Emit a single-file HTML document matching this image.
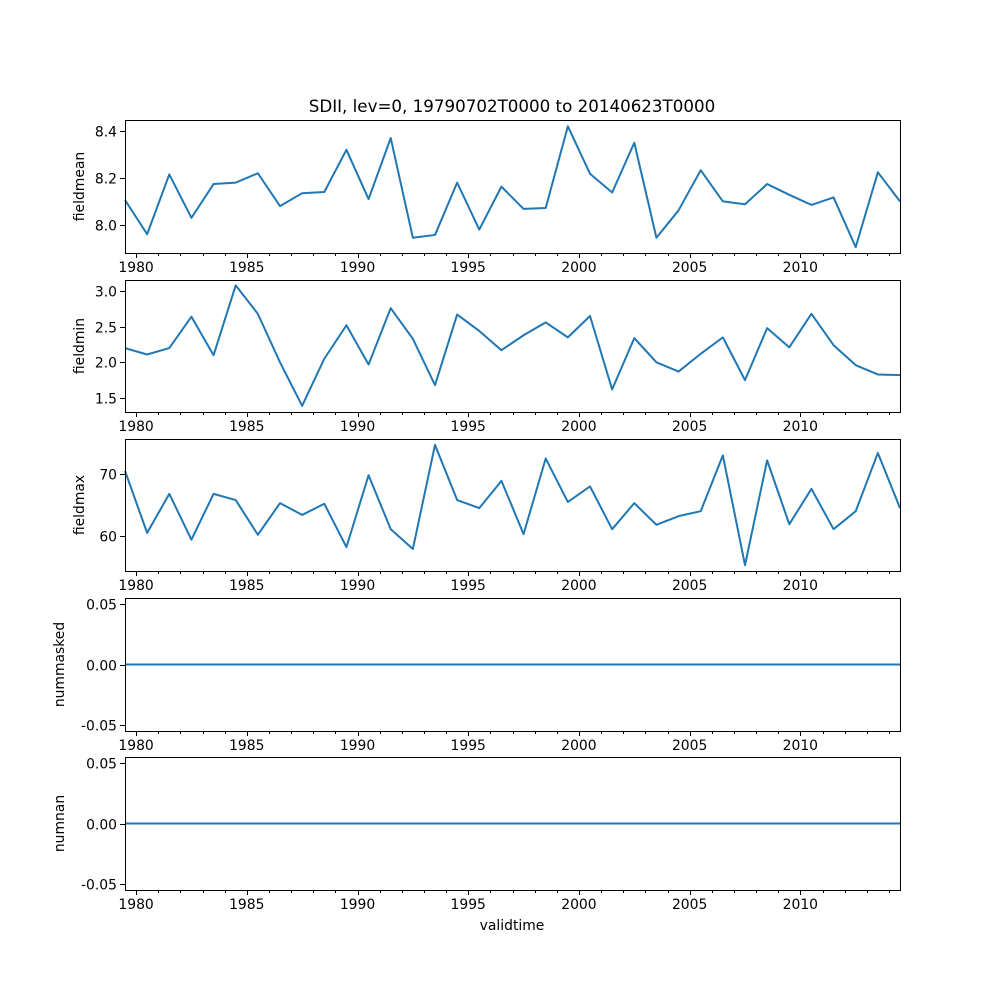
<!DOCTYPE html>
<html><head><meta charset="utf-8">
<style>
html,body{margin:0;padding:0;background:#fff;}
svg{display:block;font-family:"DejaVu Sans","Liberation Sans",sans-serif;}
</style></head>
<body>
<svg id="fig" width="1000" height="1000" viewBox="0 0 1000 1000"></svg>
<script>
const years = [1979.5,1980.5,1981.5,1982.5,1983.5,1984.5,1985.5,1986.5,1987.5,1988.5,1989.5,1990.5,1991.5,1992.5,1993.5,1994.5,1995.5,1996.5,1997.5,1998.5,1999.5,2000.5,2001.5,2002.5,2003.5,2004.5,2005.5,2006.5,2007.5,2008.5,2009.5,2010.5,2011.5,2012.5,2013.5,2014.5];
const fieldmean = [8.106,7.96,8.215,8.03,8.174,8.18,8.22,8.08,8.135,8.14,8.32,8.11,8.37,7.945,7.957,8.18,7.98,8.163,8.068,8.072,8.42,8.218,8.138,8.35,7.945,8.062,8.233,8.1,8.088,8.174,8.128,8.085,8.117,7.905,8.224,8.1];
const fieldmin = [2.2,2.11,2.2,2.64,2.1,3.08,2.68,2.0,1.39,2.05,2.52,1.97,2.76,2.33,1.68,2.67,2.44,2.17,2.38,2.56,2.35,2.65,1.62,2.34,2.0,1.87,2.12,2.35,1.75,2.48,2.21,2.68,2.24,1.96,1.83,1.82];
const fieldmax = [70.5,60.5,66.8,59.4,66.8,65.8,60.2,65.3,63.4,65.2,58.2,69.8,61.1,57.9,74.7,65.8,64.5,68.9,60.3,72.5,65.5,68.0,61.1,65.3,61.8,63.2,64.0,73.0,55.3,72.2,61.9,67.6,61.1,64.0,73.4,64.5];
const nummasked = years.map(() => 0);
const numnan = years.map(() => 0);
const xMajorTicks = [1980,1985,1990,1995,2000,2005,2010];
const meanTicks = [8.0,8.2,8.4];
const minTicks = [1.5,2.0,2.5,3.0];
const maxTicks = [60,70];
const zeroTicks = [-0.05,0.0,0.05];

const NS = "http://www.w3.org/2000/svg";
const svg = document.getElementById('fig');
const L = 125, R = 900, X0 = 1979.5, X1 = 2014.5;
function xs(v){ return L + (v - X0) / (X1 - X0) * (R - L); }
function mk(tag, attrs, parent){
  const e = document.createElementNS(NS, tag);
  for (const k in attrs) e.setAttribute(k, attrs[k]);
  (parent || svg).appendChild(e);
  return e;
}

const panels = [
  {name:'fieldmean', data:fieldmean, top:120, bot:253, lo:7.88, hi:8.447, ticks:meanTicks, fmt:v=>v.toFixed(1)},
  {name:'fieldmin', data:fieldmin, top:280, bot:412, lo:1.303, hi:3.155, ticks:minTicks, fmt:v=>v.toFixed(1)},
  {name:'fieldmax', data:fieldmax, top:439, bot:571, lo:54.35, hi:75.65, ticks:maxTicks, fmt:v=>v.toFixed(0)},
  {name:'nummasked', data:nummasked, top:598, bot:731, lo:-0.0554, hi:0.0554, ticks:zeroTicks, fmt:v=>v.toFixed(2)},
  {name:'numnan', data:numnan, top:757, bot:890, lo:-0.0554, hi:0.0554, ticks:zeroTicks, fmt:v=>v.toFixed(2)}
];

const title = mk('text', {x:512, y:112, 'text-anchor':'middle', 'font-size':'16.7'});


title.textContent = 'SDII, lev=0, 19790702T0000 to 20140623T0000';

panels.forEach(p => {
  const g = mk('g', {});
  
  
  const ys = v => p.bot - (v - p.lo) / (p.hi - p.lo) * (p.bot - p.top);
  const pts = years.map((y, i) => xs(y).toFixed(2) + ',' + ys(p.data[i]).toFixed(2)).join(' ');
  const line = mk('polyline', {points:pts, fill:'none', stroke:'#1f77b4', 'stroke-width':'2', 'stroke-linejoin':'round'}, g);
  
  
  const frame = mk('rect', {x:L+0.5, y:p.top+0.5, width:R-L, height:p.bot-p.top, fill:'none', stroke:'#000', 'stroke-width':'1'}, g);
  
  
  p.ticks.forEach(t => {
    const y = Math.round(ys(t)) + 0.5;
    mk('line', {x1:L-5, x2:L, y1:y, y2:y, stroke:'#000', 'stroke-width':'1'}, g);
    const tl = mk('text', {x:L-8, y:y+5, 'text-anchor':'end', 'font-size':'13.9'}, g);
    
    
    tl.textContent = p.fmt(t);
  });
  for (let yr = 1980; yr <= 2014; yr++) {
    const x = Math.round(xs(yr)) + 0.5;
    const major = xMajorTicks.indexOf(yr) >= 0;
    mk('line', {x1:x, x2:x, y1:p.bot, y2:p.bot + (major ? 5 : 3), stroke:'#000', 'stroke-width':'1'}, g);
  }
  xMajorTicks.forEach(yr => {
    const tl = mk('text', {x:xs(yr), y:p.bot + 19, 'text-anchor':'middle', 'font-size':'13.9'}, g);
    
    
    tl.textContent = String(yr);
  });
  const cy = (p.top + p.bot) / 2;
  const lx = (p.name === 'nummasked' || p.name === 'numnan') ? 64 : 84;
  const yl = mk('text', {x:lx, y:cy, 'text-anchor':'middle', 'font-size':'13.9', transform:'rotate(-90 ' + lx + ' ' + cy + ')'}, g);
  
  
  yl.textContent = p.name;
});

const xl = mk('text', {x:512, y:930, 'text-anchor':'middle', 'font-size':'13.9'});


xl.textContent = 'validtime';
</script>
</body></html>
